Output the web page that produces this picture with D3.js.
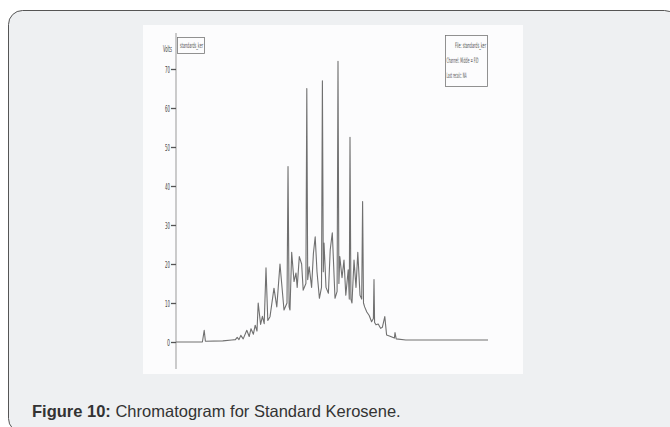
<!DOCTYPE html>
<html>
<head>
<meta charset="utf-8">
<script src="https://cdn.jsdelivr.net/npm/d3@7"></script>
<style>
  html, body { margin: 0; padding: 0; background: #fff; }
  svg { display: block; }
</style>
</head>
<body>
<svg id="chart" width="670" height="427"></svg>
<script>
// retention time (min) and detector signal (volts)
const times = [0, 4.4, 4.7, 4.9, 7.8, 9.3, 9.9, 10.2, 10.5, 10.8, 11.2, 11.8, 12.2, 12.5, 12.9, 13.2, 13.5, 13.7, 14.1, 14.4,
  14.7, 15.0, 15.3, 15.67, 16.33, 16.8, 17.33, 18.0, 18.5, 18.67, 18.85, 19.0, 19.28, 19.67, 20.0, 20.2, 20.55, 20.94, 21.2,
  21.65, 21.8, 21.95, 22.2, 22.6, 22.9, 23.2, 23.5, 23.9, 24.25, 24.4, 24.55, 24.67, 25.0, 25.4, 25.7, 26.05, 26.5,
  26.85, 27.0, 27.15, 27.3, 27.67, 28.0, 28.3, 28.7, 28.88, 29.0, 29.15, 29.33, 29.67, 30.0, 30.3, 30.67,
  30.95, 31.1, 31.25, 31.44, 31.8, 32.2, 32.6, 32.9, 33.0, 33.1, 33.33, 33.7, 34.1, 34.4, 34.8, 35.1, 35.67,
  36.4, 36.5, 36.7, 38.3, 52.0];
const volts = [0, 0, 3.0, 0.2, 0.3, 0.5, 0.6, 1.2, 0.6, 1.7, 0.8, 3.0, 1.4, 3.4, 2.0, 4.3, 2.8, 10.0, 4.5, 6.6,
  4.7, 19.0, 5.5, 6.5, 13.8, 9.0, 20.0, 8.2, 10.0, 45.0, 9.0, 8.2, 23.0, 15.5, 17.7, 14.0, 21.9, 20.0, 13.3,
  15.0, 65.0, 16.0, 19.3, 14.0, 22.7, 27.0, 18.0, 11.2, 14.0, 67.0, 18.0, 25.4, 14.0, 12.5, 23.6, 28.0, 11.2,
  13.0, 72.0, 15.0, 21.9, 16.5, 21.0, 12.0, 18.5, 11.0, 52.5, 11.0, 10.0, 21.0, 14.0, 23.0, 12.0,
  11.0, 36.0, 10.0, 9.0, 7.7, 6.8, 5.2, 6.0, 16.0, 5.0, 4.4, 4.6, 3.5, 3.8, 6.5, 1.8, 1.5,
  1.0, 2.4, 0.8, 0.5, 0.5];
const yTicks = [0, 10, 20, 30, 40, 50, 60, 70];
const infoLines = ['File: standards_ker', 'Channel: Middle = FID', 'Last recalc: NA'];
const caption = ['Figure 10:', ' Chromatogram for Standard Kerosene.'];

const svg = d3.select('#chart');

// card frame
svg.append('rect').attr('x', 8.5).attr('y', 10.5).attr('width', 670).attr('height', 422).attr('rx', 14)
  .style('fill', '#eef0f2').style('stroke', '#555').style('stroke-width', 1);

// scanned figure area
svg.append('rect').attr('x', 143).attr('y', 25).attr('width', 380).attr('height', 349).style('fill', '#fcfcfd');

const x = d3.scaleLinear().domain([0, 52]).range([176, 488]);
const y = d3.scaleLinear().domain([0, 70]).range([342, 69]);

const narrow = '"Liberation Sans Narrow", "DejaVu Sans Condensed", sans-serif';

// y axis
svg.append('line').attr('x1', 176).attr('x2', 176).attr('y1', 33).attr('y2', 369)
  .style('stroke', '#999').style('stroke-width', 1);
const yAxis = svg.append('g').attr('transform', 'translate(176,0)')
  .call(d3.axisLeft(y).tickValues(yTicks).tickSize(5).tickPadding(1));
yAxis.select('.domain').remove();
yAxis.selectAll('line').style('stroke', '#555').style('stroke-width', 1.3);
yAxis.selectAll('text').attr('textLength', d => d ? 5 : 3).attr('lengthAdjust', 'spacingAndGlyphs')
  .style('font-family', narrow).style('font-size', '9.5px').style('fill', '#444');

svg.append('text').attr('x', 163).attr('y', 52).text('Volts')
  .attr('textLength', 9).attr('lengthAdjust', 'spacingAndGlyphs')
  .style('font-family', narrow).style('font-size', '9px').style('fill', '#444');
svg.append('rect').attr('x', 177.5).attr('y', 37.5).attr('width', 27).attr('height', 16)
  .style('fill', 'none').style('stroke', '#777').style('stroke-width', 0.8);
svg.append('text').attr('x', 180).attr('y', 48).attr('textLength', 23).attr('lengthAdjust', 'spacingAndGlyphs')
  .text('standards_ker').style('font-family', narrow).style('font-size', '7.5px').style('fill', '#555');

// info box
svg.append('rect').attr('x', 445.5).attr('y', 35.5).attr('width', 42).attr('height', 51)
  .style('fill', 'none').style('stroke', '#777').style('stroke-width', 0.8);
svg.selectAll('text.info').data(infoLines).join('text').attr('class', 'info')
  .attr('x', (d, i) => i === 0 ? 455 : 446.5).attr('y', (d, i) => 48 + i * 15)
  .attr('textLength', (d, i) => i === 0 ? 31 : (i === 1 ? 32 : 20)).attr('lengthAdjust', 'spacingAndGlyphs')
  .text(d => d).style('font-family', narrow).style('font-size', '7.5px').style('fill', '#555');

// trace
const data = times.map((t, i) => [t, volts[i]]);
svg.append('path').datum(data)
  .attr('d', d3.line().x(d => x(d[0])).y(d => y(d[1])))
  .style('fill', 'none').style('stroke', '#707070').style('stroke-width', 1.1).style('stroke-linejoin', 'round');

// caption
const cap = svg.append('text').attr('x', 32).attr('y', 417)
  .style('font-family', '"Liberation Sans", Arial, sans-serif').style('font-size', '16.5px').style('fill', '#333');
cap.append('tspan').style('font-weight', 'bold').text(caption[0]);
cap.append('tspan').text(caption[1]);
</script>
</body>
</html>
